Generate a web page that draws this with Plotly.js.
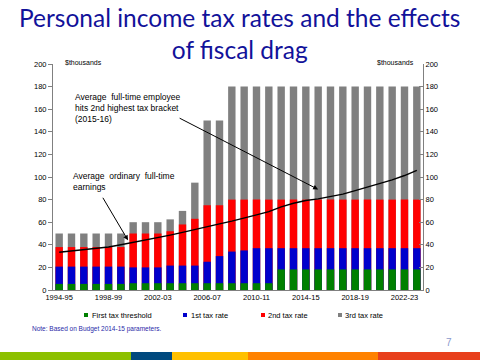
<!DOCTYPE html>
<html>
<head>
<meta charset="utf-8">
<script src="https://cdn.plot.ly/plotly-3.0.1.min.js"></script>
<style>
  html, body { margin: 0; padding: 0; background: #ffffff; }
  #chart { width: 480px; height: 360px; }
</style>
</head>
<body>
<div id="chart"></div>
<script>
// ---- Data ----
const years = ["1994-95","1995-96","1996-97","1997-98","1998-99","1999-00",
  "2000-01","2001-02","2002-03","2003-04","2004-05","2005-06","2006-07","2007-08",
  "2008-09","2009-10","2010-11","2011-12","2012-13","2013-14","2014-15","2015-16",
  "2016-17","2017-18","2018-19","2019-20","2020-21","2021-22","2022-23","2023-24"];
const tickYears = ["1994-95","1998-99","2002-03","2006-07","2010-11","2014-15","2018-19","2022-23"];

// Bracket tops ($thousands)
const firstThreshold = [5.4,5.4,5.4,5.4,5.4,5.4, 6,6,6,6,6,6,6,6,6,6,6,6,
  18.2,18.2,18.2,18.2,18.2,18.2,18.2,18.2,18.2,18.2,18.2,18.2];
const rate1Top = [20.7,20.7,20.7,20.7,20.7,20.7, 20,20,20, 21.6,21.6,21.6, 25,30,34,35,
  37,37,37,37,37,37,37,37,37,37,37,37,37,37];
const rate2Top = [38,38,38,38,38,38, 50,50,50, 52,58,63, 75,75,
  80,80,80,80,80,80,80,80,80,80,80,80,80,80,80,80];
const rate3Top = [50,50,50,50,50,50, 60,60,60, 62.5,70,95, 150,150,
  180,180,180,180,180,180,180,180,180,180,180,180,180,180,180,180];
const earnings = [33.4,34.5,35.4,36.5,38.0,40.0,42.0,44.0,46.2,48.6,51.0,53.3,56.0,58.5,
  61.0,63.5,66.5,69.4,73.5,76.8,79.2,80.6,82.4,84.8,88.0,91.0,94.0,97.5,101.3,105.8];

const legendNames = ["First tax threshold","1st tax rate","2nd tax rate","3rd tax rate"];
const colors = ["#008000","#0000CC","#FF0000","#808080"];
const titleText = "Personal income tax rates and the effects<br>of fiscal drag";

// ---- Layout helpers (pixel -> paper) ----
const L = 53, R = 423, T = 64, B = 290;
const px = x => (x - L) / (R - L);
const py = y => (B - y) / (B - T);
const FONT = "Liberation Sans, Arial, sans-serif";

const barSeries = [rate3Top, rate2Top, rate1Top, firstThreshold];
const barColors = [colors[3], colors[2], colors[1], colors[0]];
const traces = barSeries.map((vals, i) => ({
  type: "bar", x: years, y: vals, marker: {color: barColors[i], line: {width: 0}},
  showlegend: false, hoverinfo: "skip"
}));
traces.push({
  type: "scatter", mode: "lines", x: years, y: earnings, yaxis: "y2",
  line: {color: "#000000", width: 1.4}, showlegend: false
});

const annotations = [
  {xref: "paper", yref: "paper", x: px(240), y: py(33.5), xanchor: "center", yanchor: "middle",
   text: titleText, showarrow: false, font: {family: "Lato, sans-serif", size: 24.5, color: "#12129a"}},
  {xref: "paper", yref: "paper", x: px(63), y: py(62.5), xanchor: "left", yanchor: "middle",
   text: "$thousands", showarrow: false, font: {family: FONT, size: 7, color: "#000"}},
  {xref: "paper", yref: "paper", x: px(416), y: py(62.5), xanchor: "right", yanchor: "middle",
   text: "$thousands", showarrow: false, font: {family: FONT, size: 7, color: "#000"}},
  {xref: "paper", yref: "paper", x: px(73), y: py(90), xanchor: "left", yanchor: "top", align: "left",
   text: "Average  full-time employee<br>hits 2nd highest tax bracket<br>(2015-16)", showarrow: false,
   font: {family: FONT, size: 8.5, color: "#000"}},
  {xref: "paper", yref: "paper", x: px(71), y: py(169), xanchor: "left", yanchor: "top", align: "left",
   text: "Average  ordinary  full-time<br>earnings", showarrow: false,
   font: {family: FONT, size: 8.5, color: "#000"}},
  {xref: "x", yref: "y", x: "2015-16", y: 89, ax: -140, ay: -72, text: "", showarrow: true,
   arrowhead: 2, arrowsize: 1, arrowwidth: 1, arrowcolor: "#000"},
  {xref: "paper", yref: "y", x: px(128), y: 44, ax: -26, ay: -44, text: "", showarrow: true,
   arrowhead: 2, arrowsize: 1, arrowwidth: 1, arrowcolor: "#000"},
  {xref: "paper", yref: "paper", x: px(30), y: py(329), xanchor: "left", yanchor: "middle",
   text: "Note: Based on Budget 2014-15 parameters.", showarrow: false,
   font: {family: FONT, size: 6.5, color: "#2a2aa8"}},
  {xref: "paper", yref: "paper", x: px(449), y: py(342), xanchor: "center", yanchor: "middle",
   text: "7", showarrow: false, font: {family: FONT, size: 10, color: "#8a98cc"}}
];

const legendSq = [86, 185, 263, 340];
const legendTx = [89.5, 188.5, 266, 343];
const shapes = [];
legendNames.forEach((name, i) => {
  shapes.push({type: "rect", xref: "paper", yref: "paper",
    x0: px(legendSq[i] - 2), x1: px(legendSq[i] + 2), y0: py(317), y1: py(313),
    fillcolor: colors[i], line: {width: 0}});
  annotations.push({xref: "paper", yref: "paper", x: px(legendTx[i]), y: py(315),
    xanchor: "left", yanchor: "middle", text: name, showarrow: false,
    font: {family: FONT, size: 7.5, color: "#000"}});
});

// bottom colour band
const band = [[0,131,"#8CC000"],[131,172,"#00497E"],[172,248,"#FFC000"],[248,378,"#FF8200"],[378,481,"#E8401C"]];
band.forEach(b => shapes.push({type: "rect", xref: "paper", yref: "paper",
  x0: px(b[0]), x1: px(b[1]), y0: py(361), y1: py(352), fillcolor: b[2], line: {width: 0}, layer: "above"}));

const layout = {
  width: 480, height: 360,
  margin: {l: L, r: 480 - R, t: T, b: 360 - B, pad: 0},
  paper_bgcolor: "#ffffff", plot_bgcolor: "#ffffff",
  barmode: "overlay", bargap: 0.4,
  xaxis: {type: "category", categoryorder: "array", categoryarray: years,
    range: [-0.5, 29.5], tickmode: "array", tickvals: tickYears, ticktext: tickYears,
    ticks: "", showline: true, linecolor: "#808080", linewidth: 1, showgrid: false, zeroline: false,
    tickfont: {family: FONT, size: 7.5, color: "#000"}, fixedrange: true},
  yaxis: {range: [0, 200], dtick: 20, ticks: "outside", ticklen: 4, tickcolor: "#808080",
    showline: true, linecolor: "#808080", showgrid: false, zeroline: false,
    tickfont: {family: FONT, size: 7.5, color: "#000"}},
  yaxis2: {range: [0, 200], dtick: 20, overlaying: "y", side: "right", ticks: "inside", ticklen: 4,
    tickcolor: "#808080", showline: true, linecolor: "#808080", showgrid: false, zeroline: false,
    tickfont: {family: FONT, size: 7.5, color: "#000"}},
  annotations: annotations,
  shapes: shapes,
  showlegend: false
};

Plotly.newPlot("chart", traces, layout, {displayModeBar: false, staticPlot: true});
</script>
</body>
</html>
